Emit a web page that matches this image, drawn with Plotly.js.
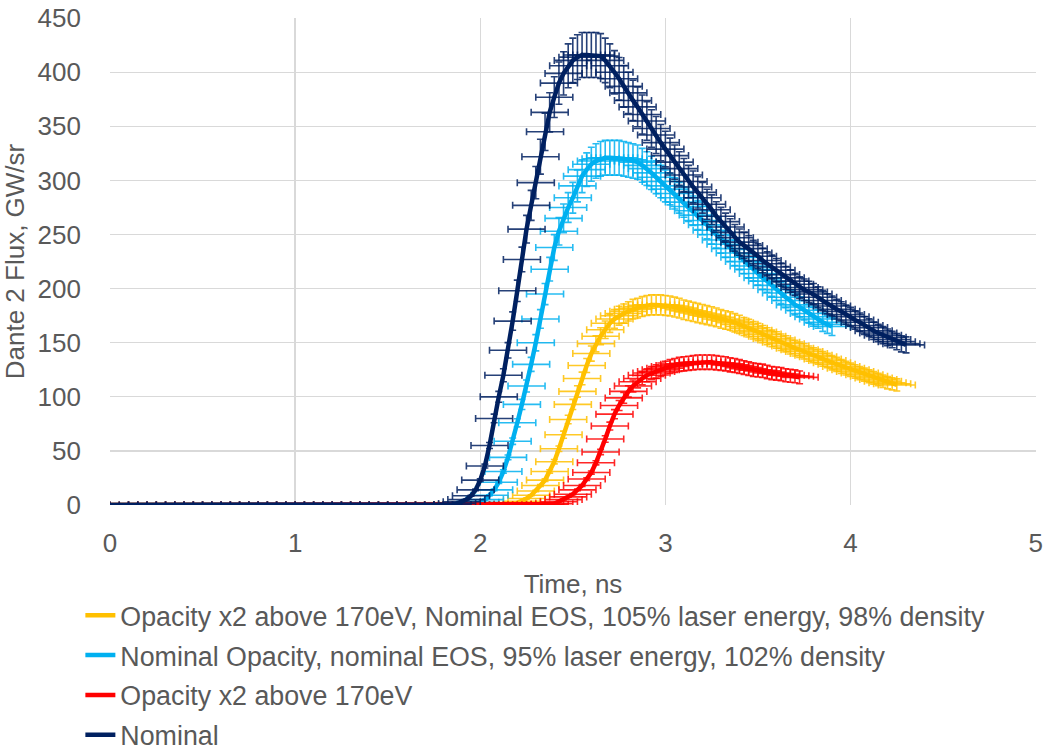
<!DOCTYPE html>
<html>
<head>
<meta charset="utf-8">
<script src="https://cdn.plot.ly/plotly-3.0.1.min.js"></script>
<style>html,body{margin:0;padding:0;background:#fff;overflow:hidden}#chart{width:1043px;height:800px}</style>
</head>
<body>
<div id="chart"></div>
<script>
// Flat baseline part of every run (ns)
const timeBase = [0,0.05,0.1,0.15,0.2,0.25,0.3,0.35,0.4,0.45,0.5,0.55,0.6,0.65,0.7,0.75,0.8,0.85,0.9,0.95,
  1,1.05,1.1,1.15,1.2,1.25,1.3,1.35,1.4,1.45,1.5,1.55,1.6,1.65,1.7,1.75,1.8];
const baseFlux = [0,0,0,0,0,0,0,0,0,0,0,0,0,0,0,0,0,0,0,0,0,0,0,0,0,0,0,0,0,0,0,0,0,0,0,0,0];

// Fine time grid (ns) for the pulse part
const timeFine = [1.85,1.875,1.9,1.925,1.95,1.975,
  2,2.025,2.05,2.075,2.1,2.125,2.15,2.175,2.2,2.225,2.25,2.275,2.3,2.325,2.35,2.375,2.4,2.425,2.45,2.475,
  2.5,2.525,2.55,2.575,2.6,2.625,2.65,2.675,2.7,2.725,2.75,2.775,2.8,2.825,2.85,2.875,2.9,2.925,2.95,2.975,
  3,3.025,3.05,3.075,3.1,3.125,3.15,3.175,3.2,3.225,3.25,3.275,3.3,3.325,3.35,3.375,3.4,3.425,3.45,3.475,
  3.5,3.525,3.55,3.575,3.6,3.625,3.65,3.675,3.7,3.725,3.75,3.775,3.8,3.825,3.85,3.875,3.9,3.925,3.95,3.975,
  4,4.025,4.05,4.075,4.1,4.125,4.15,4.175,4.2,4.225,4.25,4.275,4.3];

// Dante 2 flux (GW/sr) on timeFine, starting at 1.85 ns
const fluxNominal = [0.5,1.5,3,5,8.5,14,
  23,36,55,80,100,120,143,170,198,227,255,277,298,322,345,363,377,390,399,406,
  411,414,416,416,416,416,415,411,406,400,394,387,381,374,368,361,355,348,342,335,
  329,323,317,311,305,299,294,289,284,278,273,267,262,257,252,247,243,240,237,233,
  230,226,223,220,217,213,210,207,204,201,199,197,195,192,189,186,184,181,179,176,
  174,171,169,166,164,161,159,157,155,153,151,149,148];

const fluxNomOpacity = [0,0,0,0,0.5,1,
  2.5,5,9,14,21,31,44,59,76,93,110,130,150,172,195,218,238,253,265,275,
  284,295,304,310,315,318,320,321,321,321,321,320,319,318,317,314,311,307,303,299,
  295,292,288,284,280,276,272,268,263,259,254,250,245,241,237,233,229,225,221,218,
  214,210,207,203,199,196,192,189,185,183,180,177,174,172,169,167,165];

const fluxOpacityX2Laser = [0,0,0,0,0,0,
  0,0,0,0,0,0,0.5,1,2,3.5,6,9,13,18,23,31,40,52,65,79,
  93,105,117,129,140,149,156,162,168,172,175,177,179,181,182,183.5,184.5,185,185,185,
  184.5,184,183,182,180.5,179.5,178.5,177.5,176.5,175.5,174.5,173.5,172,171,170,168.5,167,165,163.5,161.5,
  160,158,156,154,152.5,150.5,149,147,145,143.5,142,140,138.5,137,135,133.5,131.5,130,128,126.5,
  125,123.5,122,120.5,119,117.5,116,114.5,113,112,111];

const fluxOpacityX2 = [0,0,0,0,0,0,
  0,0,0,0,0,0,0,0,0,0,0,0,0,0,0.3,0.7,1.2,3,5,7.5,
  10,14,18,24,30,39,49,61,73,84,92,99,105,110,114,117,120,122,123.5,125,
  126.5,128,129,130,130.5,131,131.5,132,132,132,132,131.5,131,130.5,129.5,129,128,127,126,125,
  124.5,124,123,122,121.5,121,120,119.5,119,118];

const seriesNames = [
  'Opacity x2 above 170eV, Nominal EOS, 105% laser energy, 98% density',
  'Nominal Opacity, nominal EOS, 95% laser energy, 102% density',
  'Opacity x2 above 170eV',
  'Nominal'
];
const seriesFlux = [fluxOpacityX2Laser, fluxNomOpacity, fluxOpacityX2, fluxNominal];
const seriesColors = ['#FFC000', '#00B0F0', '#FF0000', '#002060'];
const barColors = ['rgba(255,192,0,0.85)', 'rgba(0,176,240,0.85)', 'rgba(255,0,0,0.85)', 'rgba(0,32,96,0.85)'];
const timeErr = 0.1;     // ns, horizontal error
const fluxErrPct = 5;    // %, vertical error

const traces = seriesNames.map((name, i) => {
  const f = seriesFlux[i];
  return {
    type: 'scatter', mode: 'lines', name: name, legendgroup: 'g' + i,
    x: timeBase.concat(timeFine.slice(0, f.length)),
    y: baseFlux.concat(f),
    line: {color: seriesColors[i], width: 4.5},
    cliponaxis: false,
    error_x: {type: 'constant', value: timeErr, color: barColors[i], thickness: 1.6, width: 3.5},
    error_y: {type: 'percent', value: fluxErrPct, color: barColors[i], thickness: 1.6, width: 3.5},
    hoverinfo: 'x+y'
  };
});

const fnt = {family: '"Liberation Sans", Arial, sans-serif', size: 26, color: '#595959'};
const legFnt = {family: '"Liberation Sans", Arial, sans-serif', size: 26.8, color: '#595959'};
const layout = {
  width: 1043, height: 800,
  margin: {l: 110, r: 7, t: 18, b: 295, pad: 0},
  paper_bgcolor: '#ffffff', plot_bgcolor: '#ffffff',
  font: fnt,
  showlegend: true,
  xaxis: {
    range: [0, 5.002], tickmode: 'array', tickvals: [0, 1, 2, 3, 4, 5],
    showgrid: true, gridcolor: '#D9D9D9', gridwidth: 1.3,
    zeroline: false, showline: false, ticks: '', tickfont: fnt, ticklabelstandoff: 20,
    title: {text: 'Time, ns', font: fnt, standoff: 17}, automargin: false, fixedrange: true
  },
  yaxis: {
    range: [0, 450.2], tickmode: 'array', tickvals: [0, 50, 100, 150, 200, 250, 300, 350, 400, 450],
    showgrid: true, gridcolor: '#D9D9D9', gridwidth: 1.3,
    zeroline: false, showline: false, ticks: '', tickfont: fnt, ticklabelstandoff: 28,
    title: {text: 'Dante 2 Flux, GW/sr', font: fnt, standoff: 8}, automargin: false, fixedrange: true
  },
  legend: {
    orientation: 'v', x: -0.032, xanchor: 'left', y: -0.1772, yanchor: 'top',
    font: legFnt, bgcolor: 'rgba(0,0,0,0)', traceorder: 'grouped', tracegroupgap: 2
  }
};

Plotly.newPlot('chart', traces, layout, {displayModeBar: false, staticPlot: true});
</script>
</body>
</html>
